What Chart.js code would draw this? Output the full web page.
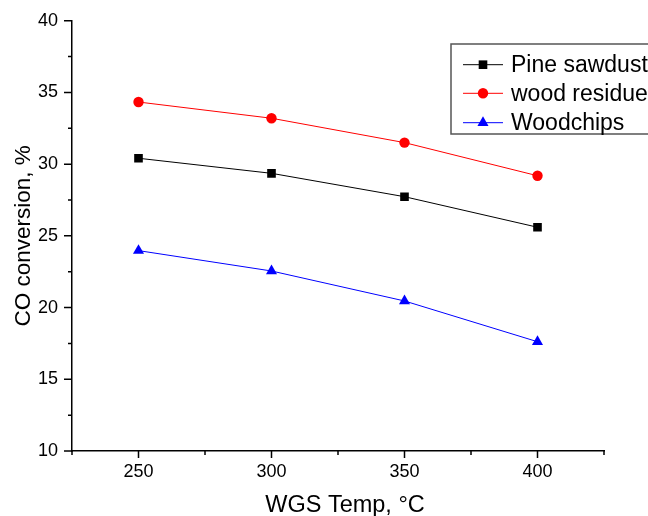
<!DOCTYPE html>
<html>
<head>
<meta charset="utf-8">
<script src="https://cdn.jsdelivr.net/npm/chart.js@4"></script>
<style>
  html, body { margin: 0; padding: 0; background: #fff; }
  #wrap { width: 648px; height: 516px; }
</style>
</head>
<body>
<div id="wrap"><canvas id="chart" width="648" height="516"></canvas></div>
<script>
// datos
const temps = [250, 300, 350, 400];
const pineSawdust = [30.41, 29.36, 27.73, 25.60];
const woodResidue = [34.33, 33.20, 31.50, 29.19];
const woodchips = [23.97, 22.55, 20.46, 17.62];

const xMajor = [250, 300, 350, 400];
const xMinor = [225, 275, 325, 375, 425];
const yMajor = [10, 15, 20, 25, 30, 35, 40];
const yMinor = [12.5, 17.5, 22.5, 27.5, 32.5, 37.5];

const FONT = 'Liberation Sans, Arial, sans-serif';

const series = [
    { label: 'Pine sawdust', data: pineSawdust, color: '#000000', style: 'rect', radius: 6.1 },
    { label: 'wood residue', data: woodResidue, color: '#ff0000', style: 'circle', radius: 5.2 },
    { label: 'Woodchips', data: woodchips, color: '#0000ff', style: 'triangle', radius: 6.4 }
];

// ticks mayores y menores hacia fuera + titulo del eje x
const tickMarks = {
    id: 'tickMarks',
    afterDraw(chart) {
        const ctx = chart.ctx;
        const x = chart.scales.x, y = chart.scales.y;
        ctx.save();
        ctx.strokeStyle = '#000';
        ctx.lineWidth = 1.5;
        ctx.beginPath();
        xMajor.forEach(v => { const px = x.getPixelForValue(v); ctx.moveTo(px, y.bottom); ctx.lineTo(px, y.bottom + 7); });
        xMinor.forEach(v => { const px = x.getPixelForValue(v); ctx.moveTo(px, y.bottom); ctx.lineTo(px, y.bottom + 4); });
        yMajor.forEach(v => { const py = y.getPixelForValue(v); ctx.moveTo(x.left, py); ctx.lineTo(x.left - 8, py); });
        yMinor.forEach(v => { const py = y.getPixelForValue(v); ctx.moveTo(x.left, py); ctx.lineTo(x.left - 4, py); });
        ctx.stroke();

        ctx.fillStyle = '#000';
        ctx.font = '23.5px ' + FONT;
        ctx.textAlign = 'center';
        ctx.textBaseline = 'middle';
        ctx.fillText('WGS Temp, °C', 345, 506);
        ctx.restore();
    }
};

// leyenda con recuadro, como en el original
const boxLegend = {
    id: 'boxLegend',
    afterDraw(chart) {
        const ctx = chart.ctx;
        const left = 451, top = 44, bottom = 134;
        ctx.save();
        ctx.strokeStyle = '#555';
        ctx.lineWidth = 1.5;
        ctx.strokeRect(left, top, 320, bottom - top);
        const rows = [64.7, 93.3, 122.7];
        series.forEach((s, i) => {
            const yy = rows[i];
            ctx.strokeStyle = s.color;
            ctx.lineWidth = 1;
            ctx.beginPath();
            ctx.moveTo(463, yy);
            ctx.lineTo(503, yy);
            ctx.stroke();
            ctx.fillStyle = s.color;
            Chart.helpers.drawPoint(ctx, { pointStyle: s.style, radius: s.radius, borderWidth: 0 }, 483, yy);
            ctx.fillStyle = '#000';
            ctx.font = '23px ' + FONT;
            ctx.textBaseline = 'middle';
            ctx.textAlign = 'left';
            ctx.fillText(s.label, 511, yy + 1);
        });
        ctx.restore();
    }
};

new Chart(document.getElementById('chart').getContext('2d'), {
    type: 'line',
    data: {
        labels: temps,
        datasets: series.map(s => ({
            label: s.label,
            data: s.data.map((v, i) => ({ x: temps[i], y: v })),
            borderColor: s.color,
            backgroundColor: s.color,
            borderWidth: 1,
            pointStyle: s.style,
            pointRadius: s.radius,
            pointHoverRadius: s.radius,
            pointBorderWidth: 0,
            tension: 0
        }))
    },
    options: {
        responsive: false,
        animation: false,
        layout: { padding: { top: 20.7, right: 44, left: 0, bottom: 0 } },
        plugins: { legend: { display: false }, tooltip: { enabled: false } },
        scales: {
            x: {
                type: 'linear',
                min: 225,
                max: 425,
                afterBuildTicks: scale => { scale.ticks = xMajor.map(v => ({ value: v })); },
                afterFit: scale => { scale.height = 65; scale.paddingLeft = 0; scale.paddingRight = 0; },
                grid: { display: false, drawTicks: false },
                border: { display: true, color: '#000', width: 1.5 },
                ticks: { color: '#000', font: { family: FONT, size: 18 }, padding: 10, maxRotation: 0 },
                title: { display: false }
            },
            y: {
                min: 10,
                max: 40,
                afterBuildTicks: scale => { scale.ticks = yMajor.map(v => ({ value: v })); },
                afterFit: scale => { scale.width = 72; scale.paddingTop = 0; scale.paddingBottom = 0; },
                grid: { display: false, drawTicks: false },
                border: { display: true, color: '#000', width: 1.5 },
                ticks: { color: '#000', font: { family: FONT, size: 18 }, padding: 14 },
                title: { display: true, text: 'CO conversion, %', color: '#000', font: { family: FONT, size: 22.5 }, padding: { top: 10, bottom: 0 } }
            }
        }
    },
    plugins: [tickMarks, boxLegend]
});
</script>
</body>
</html>
